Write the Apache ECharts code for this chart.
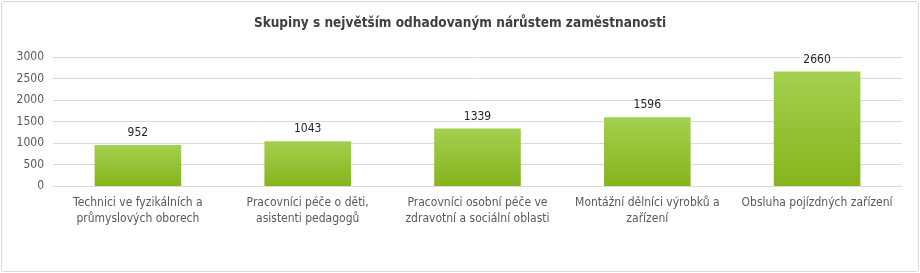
<!DOCTYPE html>
<html><head><meta charset="utf-8">
<script src="https://cdn.jsdelivr.net/npm/echarts@6/dist/echarts.min.js"></script>
<style>html,body{margin:0;padding:0;background:#fff}#c{width:920px;height:273px}
#frame{position:absolute;left:1px;top:1px;width:916px;height:269px;border:1px solid #d9d9d9;border-radius:3px;pointer-events:none}</style>
</head><body><div id="c"></div><div id="frame"></div>
<script>
const categories = ["Technici ve fyzikálních a\nprůmyslových oborech","Pracovníci péče o děti,\nasistenti pedagogů","Pracovníci osobní péče ve\nzdravotní a sociální oblasti","Montážní dělníci výrobků a\nzařízení","Obsluha pojízdných zařízení"];
const values = [952,1043,1339,1596,2660];
const yTicks = [0,500,1000,1500,2000,2500,3000];
const titleText = "Skupiny s největším odhadovaným nárůstem zaměstnanosti";
const FONT = 'DejaVu Sans Condensed';
const chart = echarts.init(document.getElementById('c'));
chart.setOption({
  animation:false,
  backgroundColor:'#fff',
  title:{text:titleText,left:'center',top:11,textStyle:{fontFamily:FONT,fontSize:13.5,fontWeight:'bold',color:'#404040'}},
  grid:{left:53,right:18,top:57,bottom:87},
  xAxis:{type:'category',data:categories,axisTick:{show:false},axisLine:{lineStyle:{color:'#d9d9d9'}},
    axisLabel:{interval:0,fontFamily:FONT,fontSize:12,color:'#595959',lineHeight:16,margin:9}},
  yAxis:{type:'value',min:yTicks[0],max:yTicks[yTicks.length-1],interval:500,
    axisLabel:{fontFamily:FONT,fontSize:12,color:'#595959',margin:9,formatter:v=>String(v)},
    splitLine:{lineStyle:{color:'#d9d9d9'}}},
  series:[{type:'bar',data:values,barWidth:'51%',
    itemStyle:{color:new echarts.graphic.LinearGradient(0,0,0,1,[{offset:0,color:'#a3d04f'},{offset:1,color:'#86b41c'}])},
    label:{show:true,position:'top',fontFamily:FONT,fontSize:12,color:'#262626',distance:6}}]
});
</script></body></html>
